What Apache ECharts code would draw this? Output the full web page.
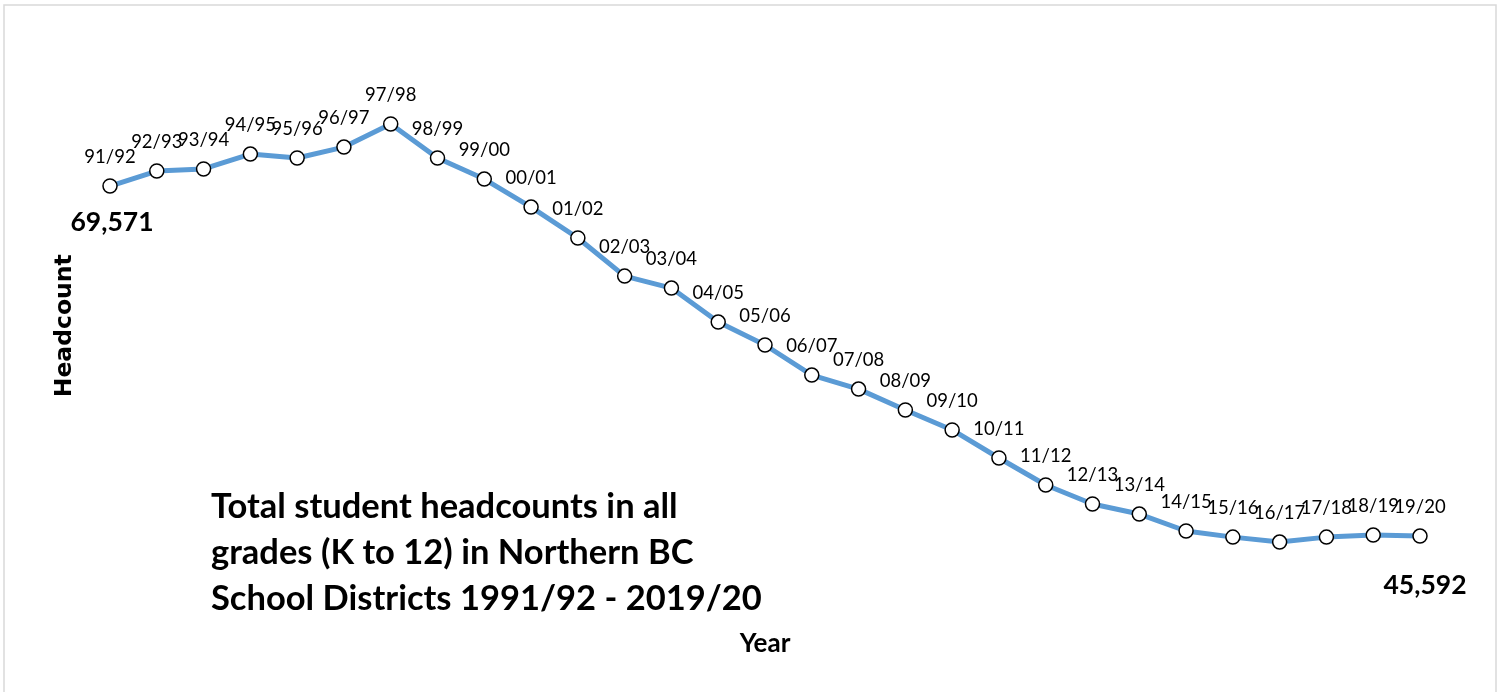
<!DOCTYPE html>
<html>
<head>
<meta charset="utf-8">
<script src="https://cdn.jsdelivr.net/npm/echarts@6/dist/echarts.min.js"></script>
<style>html,body{margin:0;padding:0;background:#fff}#c{width:1502px;height:692px}</style>
</head>
<body>
<div id="c"></div>
<script>
const categories = ['91/92','92/93','93/94','94/95','95/96','96/97','97/98','98/99','99/00','00/01','01/02','02/03','03/04','04/05','05/06','06/07','07/08','08/09','09/10','10/11','11/12','12/13','13/14','14/15','15/16','16/17','17/18','18/19','19/20'];
const headcounts = [69571,70600,70740,71760,71490,72240,73820,71490,70050,68130,66010,63400,62580,60250,58680,56620,55660,54230,52860,50940,49090,47790,47100,45940,45520,45180,45520,45660,45592];
const titleLines = ['Total student headcounts in all','grades (K to 12) in Northern BC','School Districts 1991/92 - 2019/20'];
const yName = 'Headcount';
const xName = 'Year';

const chart = echarts.init(document.getElementById('c'));
const fmt = v => v.toLocaleString('en-US');
const last = categories.length - 1;
chart.setOption({
  animation: false,
  backgroundColor: '#fff',
  grid: {left: 110, right: 82, top: 33.8, bottom: 74.3},
  xAxis: {
    type: 'category', data: categories, boundaryGap: false,
    axisLine: {show: false}, axisTick: {show: false}, axisLabel: {show: false}, splitLine: {show: false},
    name: xName, nameLocation: 'middle', nameGap: 13,
    nameTextStyle: {fontFamily: 'Lato', fontWeight: 'bold', fontSize: 26, color: '#000'}
  },
  yAxis: {
    type: 'value', min: 40000, max: 80000,
    axisLine: {show: false}, axisTick: {show: false}, axisLabel: {show: false}, splitLine: {show: false},
    name: yName, nameLocation: 'middle', nameGap: 33, nameRotate: 90,
    nameTextStyle: {fontFamily: 'DejaVu Sans', fontWeight: 'bold', fontSize: 23.5, color: '#000'}
  },
  graphic: [
    {type: 'rect', z: -1, shape: {x: 4, y: 5, width: 1492, height: 700},
     style: {fill: 'none', stroke: '#d9d9d9', lineWidth: 1.5}},
    {type: 'text', left: 211, top: 484,
     style: {text: titleLines.join('\n'), fontFamily: 'Lato', fontWeight: 'bold', fontSize: 34.5, lineHeight: 46, fill: '#000'}}
  ],
  series: [{
    type: 'line', data: headcounts,
    lineStyle: {color: '#5b9bd5', width: 5},
    itemStyle: {color: '#fff', borderColor: '#000', borderWidth: 1.5},
    symbol: 'circle', symbolSize: 14, showAllSymbol: true,
    label: {show: true, position: 'top', distance: 12, formatter: p => categories[p.dataIndex],
      fontFamily: 'Lato', fontSize: 18.5, color: '#000'},
    markPoint: {
      symbol: 'circle', symbolSize: 0,
      label: {show: true, fontFamily: 'Lato', fontWeight: 'bold', fontSize: 26.5, color: '#000', formatter: p => fmt(p.value)},
      data: [
        {coord: [0, headcounts[0]], value: headcounts[0], label: {offset: [2, 36]}},
        {coord: [last, headcounts[last]], value: headcounts[last], label: {offset: [5, 49]}}
      ]
    }
  }]
});
</script>
</body>
</html>
